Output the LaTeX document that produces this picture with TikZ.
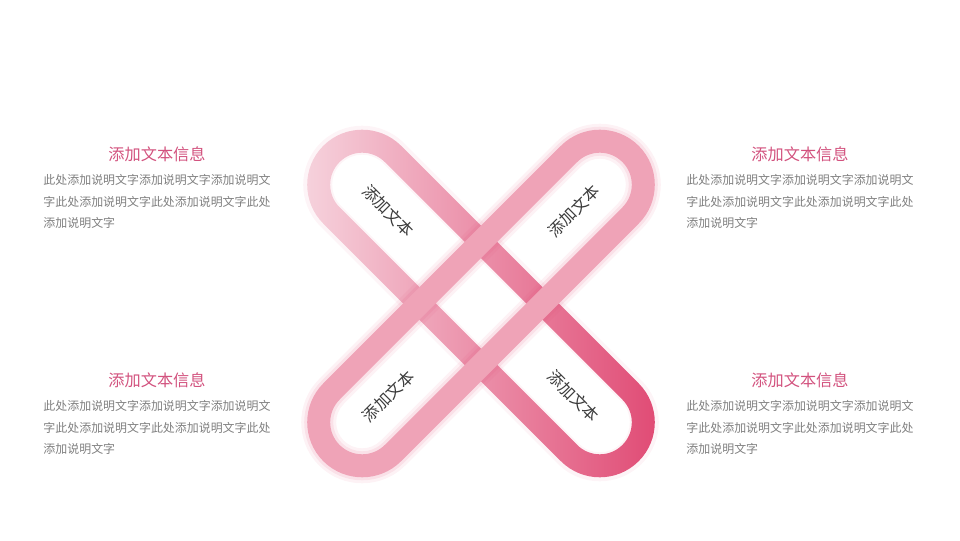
\documentclass[tikz,border=0pt]{standalone}
\usepackage{fontspec}
\usepackage{tikz}
\usetikzlibrary{positioning}
\newfontfamily\cjk{Noto Sans CJK SC}
\definecolor{ribbonlight}{HTML}{F6D3DD}
\definecolor{ribbonmid}{HTML}{EC9FB4}
\definecolor{ribbondark}{HTML}{E04A74}
\definecolor{ribbonflat}{HTML}{EFA3B7}
\definecolor{titlepink}{HTML}{D2527E}
\definecolor{bodygray}{HTML}{7F7F7F}
\definecolor{capgray}{HTML}{3A3A3A}
% capsule of half length #1 and radius #2, centred on the origin
\newcommand{\capsulepath}[2]{(-#1,-#2) -- (#1,-#2) arc[start angle=-90,end angle=90,radius=#2] -- (-#1,#2) arc[start angle=90,end angle=270,radius=#2] -- cycle}

\begin{document}
\begin{tikzpicture}[x=0.025cm, y=0.025cm,
  title/.style={font=\cjk\fontsize{11.5}{13}\selectfont, text=titlepink, inner sep=0pt},
  body/.style={font=\cjk\fontsize{8.5}{15.3}\selectfont, text=bodygray, align=left, inner sep=0pt},
  captext/.style={font=\cjk\fontsize{11.5}{13}\selectfont, text=capgray, inner sep=0pt}]
\useasboundingbox (0,0) rectangle (960,540);

% ribbon from top left to bottom right
\begin{scope}[shift={(481,236.5)}, rotate=-45]
  \fill[ribbondark, opacity=.06, even odd rule] \capsulepath{168}{59} \capsulepath{168}{30};
  \shade[even odd rule, left color=ribbonlight, middle color=ribbonmid, right color=ribbondark]
    \capsulepath{168}{55} \capsulepath{168}{32};
  \node[captext, rotate=-45] (tl) at (-131,0) {添加文本};
  \node[captext, rotate=-45] (br) at (131,0) {添加文本};
\end{scope}

% ribbon from top right to bottom left, lying on top
\begin{scope}[shift={(481,236.5)}, rotate=45]
  \fill[ribbondark, opacity=.07, even odd rule] \capsulepath{168}{61} \capsulepath{168}{26};
  \fill[ribbondark, opacity=.10, even odd rule] \capsulepath{168}{58} \capsulepath{168}{29};
  \fill[ribbonflat, even odd rule] \capsulepath{168}{55} \capsulepath{168}{32};
  \node[captext, rotate=45] (bl) at (-131,0) {添加文本};
  \node[captext, rotate=45] (tr) at (131,0) {添加文本};
\end{scope}

% texts
\node[title] (t1) at (157,386) {添加文本信息};
\node[body, below=9pt of t1] (b1) {此处添加说明文字添加说明文字添加说明文\\字此处添加说明文字此处添加说明文字此处\\添加说明文字};
\node[title] (t2) at (800,386) {添加文本信息};
\node[body, below=9pt of t2] (b2) {此处添加说明文字添加说明文字添加说明文\\字此处添加说明文字此处添加说明文字此处\\添加说明文字};
\node[title] (t3) at (157,160) {添加文本信息};
\node[body, below=9pt of t3] (b3) {此处添加说明文字添加说明文字添加说明文\\字此处添加说明文字此处添加说明文字此处\\添加说明文字};
\node[title] (t4) at (800,160) {添加文本信息};
\node[body, below=9pt of t4] (b4) {此处添加说明文字添加说明文字添加说明文\\字此处添加说明文字此处添加说明文字此处\\添加说明文字};
\end{tikzpicture}
\end{document}
